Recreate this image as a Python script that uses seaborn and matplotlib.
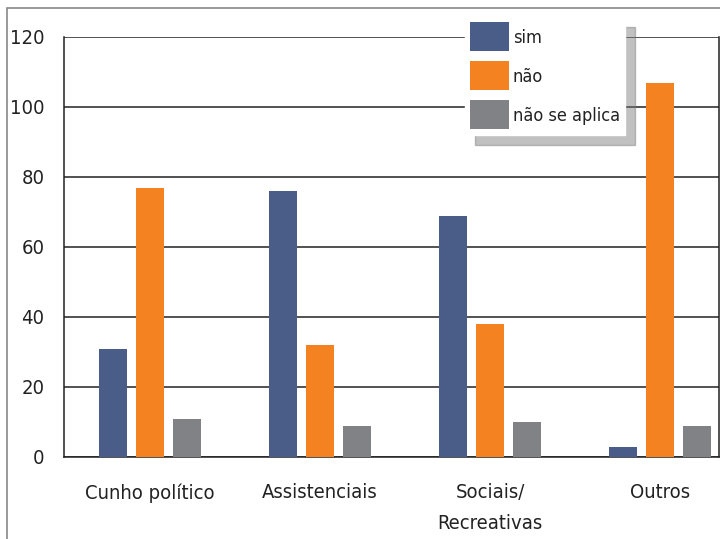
import matplotlib
matplotlib.use("Agg")
import matplotlib.pyplot as plt
import seaborn as sns
import pandas as pd
from matplotlib.patches import Rectangle

categories = ["Cunho político", "Assistenciais", "Sociais/\nRecreativas", "Outros"]
series = ["sim", "não", "não se aplica"]
sim = [31, 76, 69, 3]
nao = [77, 32, 38, 107]
nao_se_aplica = [11, 9, 10, 9]
y_ticks = [0, 20, 40, 60, 80, 100, 120]

colors = ["#4a5d88", "#f58220", "#808285"]

df = pd.DataFrame({
    "categoria": categories * 3,
    "resposta": [s for s in series for _ in categories],
    "valor": sim + nao + nao_se_aplica,
})

sns.set_theme(style="white")
plt.rcParams['font.family'] = ['DejaVu Sans']
plt.rcParams['font.stretch'] = 'condensed'

fig = plt.figure(figsize=(7.2, 5.39), dpi=100)
ax = fig.add_axes([64 / 720, 1 - 457 / 539, (719 - 64) / 720, (457 - 37) / 539])

sns.barplot(data=df, x="categoria", y="valor", hue="resposta", order=categories,
            hue_order=series, palette=colors, width=0.66, gap=0.25,
            saturation=1, linewidth=0, ax=ax, zorder=3)

ax.set_ylim(0, 120)
ax.set_xlim(-0.506, 3.347)
ax.set_yticks(y_ticks)
ax.yaxis.grid(True, color="#222222", linewidth=1.1, zorder=0)
ax.set_axisbelow(True)
for side in ["left", "right", "bottom"]:
    ax.spines[side].set_color("#222222")
    ax.spines[side].set_linewidth(1.1)
ax.spines["top"].set_visible(False)
ax.set_xlabel("")
ax.set_ylabel("")
ax.tick_params(axis="y", length=0, pad=14, labelsize=14.5, labelcolor="#222222")
ax.tick_params(axis="x", length=0, pad=19, labelsize=14.5, labelcolor="#222222")
for lbl in ax.get_xticklabels():
    lbl.set_linespacing(1.75)
    lbl.set_verticalalignment("top")

leg = ax.legend(loc="upper left", bbox_to_anchor=(401 / 655, 1 + 20 / 420),
                frameon=True,
                shadow={"color": "#777777", "alpha": 0.45, "ox": 7, "oy": -7},
                fancybox=False, fontsize=13, handlelength=2.15, handleheight=2.1,
                handletextpad=0.2, labelspacing=0.55, borderpad=0.3,
                borderaxespad=0)
leg.get_frame().set_edgecolor("white")
leg.get_frame().set_facecolor("white")
leg.get_frame().set_alpha(1)
for t in leg.get_texts():
    t.set_color("#222222")

# outer frame of the figure
fig.patches.append(Rectangle((7 / 720, -0.1), 1.2, 1 - 8 / 539 + 0.1,
                             transform=fig.transFigure, fill=False,
                             edgecolor="#888888", linewidth=1.2))

plt.savefig("out.png", dpi=100)
